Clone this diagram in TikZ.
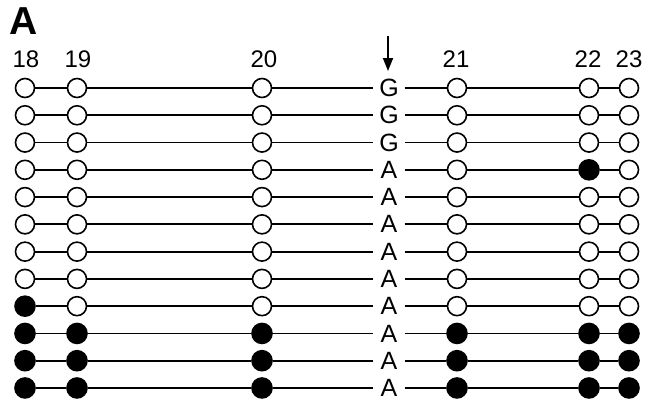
\documentclass[tikz,border=0pt]{standalone}
\usepackage{fontspec}
\setmainfont{Liberation Sans}
\usetikzlibrary{arrows.meta}
\tikzset{
    haplotype/.style={
            x=1pt,y=-1pt,
            snp0/.style={circle,draw,line width=1.6pt,fill=white,minimum size=19pt,inner sep=0pt},
            snp1/.style={circle,draw,line width=1.6pt,fill=black,minimum size=20pt,inner sep=0pt},
            base/.style={font=\fontsize{25}{25}\selectfont,inner ysep=0pt,minimum width=31pt},
            marker/.style={font=\fontsize{24}{24}\selectfont},
            link/.style={line width=1.8pt}
        }
    }

\begin{document}
\begin{tikzpicture}[haplotype]
                \useasboundingbox (0,0) rectangle (645,408);
                \node[font=\bfseries\fontsize{39}{39}\selectfont] (panel) at (24,21) {A};
                % marker numbers
                \node[marker] (m18) at (26,59) {18};
                \node[marker] (m19) at (78,59) {19};
                \node[marker] (m20) at (264,59) {20};
                \node[marker] (m21) at (456,59) {21};
                \node[marker] (m22) at (588,59) {22};
                \node[marker] (m23) at (629,59) {23};
                \coordinate (top) at (388,36);
                \coordinate (tip) at (388,71);
                \draw[line width=1.8pt,-{Triangle[length=13pt,width=10pt]}] (top) -- (tip);
                % one row per chromosome
                \foreach \r/\nt/\a/\b/\c/\d/\e/\f in {
                        1/G/0/0/0/0/0/0, 2/G/0/0/0/0/0/0, 3/G/0/0/0/0/0/0,
                        4/A/0/0/0/0/1/0, 5/A/0/0/0/0/0/0, 6/A/0/0/0/0/0/0,
                        7/A/0/0/0/0/0/0, 8/A/0/0/0/0/0/0, 9/A/1/0/0/0/0/0,
                        10/A/1/1/1/1/1/1, 11/A/1/1/1/1/1/1, 12/A/1/1/1/1/1/1}{
                        \pgfmathsetmacro{\y}{88+27.27*(\r-1)}
                        \node[base] (b\r) at (389,\y) {\nt};
                        \node[snp\a] (s\r-1) at (25,\y) {};
                        \node[snp\b] (s\r-2) at (77,\y) {};
                        \node[snp\c] (s\r-3) at (262,\y) {};
                        \node[snp\d] (s\r-4) at (457,\y) {};
                        \node[snp\e] (s\r-5) at (589,\y) {};
                        \node[snp\f] (s\r-6) at (629,\y) {};
                        \draw[link] (s\r-1) -- (s\r-2) -- (s\r-3) -- (b\r) -- (s\r-4) -- (s\r-5) -- (s\r-6);
                    }
            \end{tikzpicture}
\end{document}
